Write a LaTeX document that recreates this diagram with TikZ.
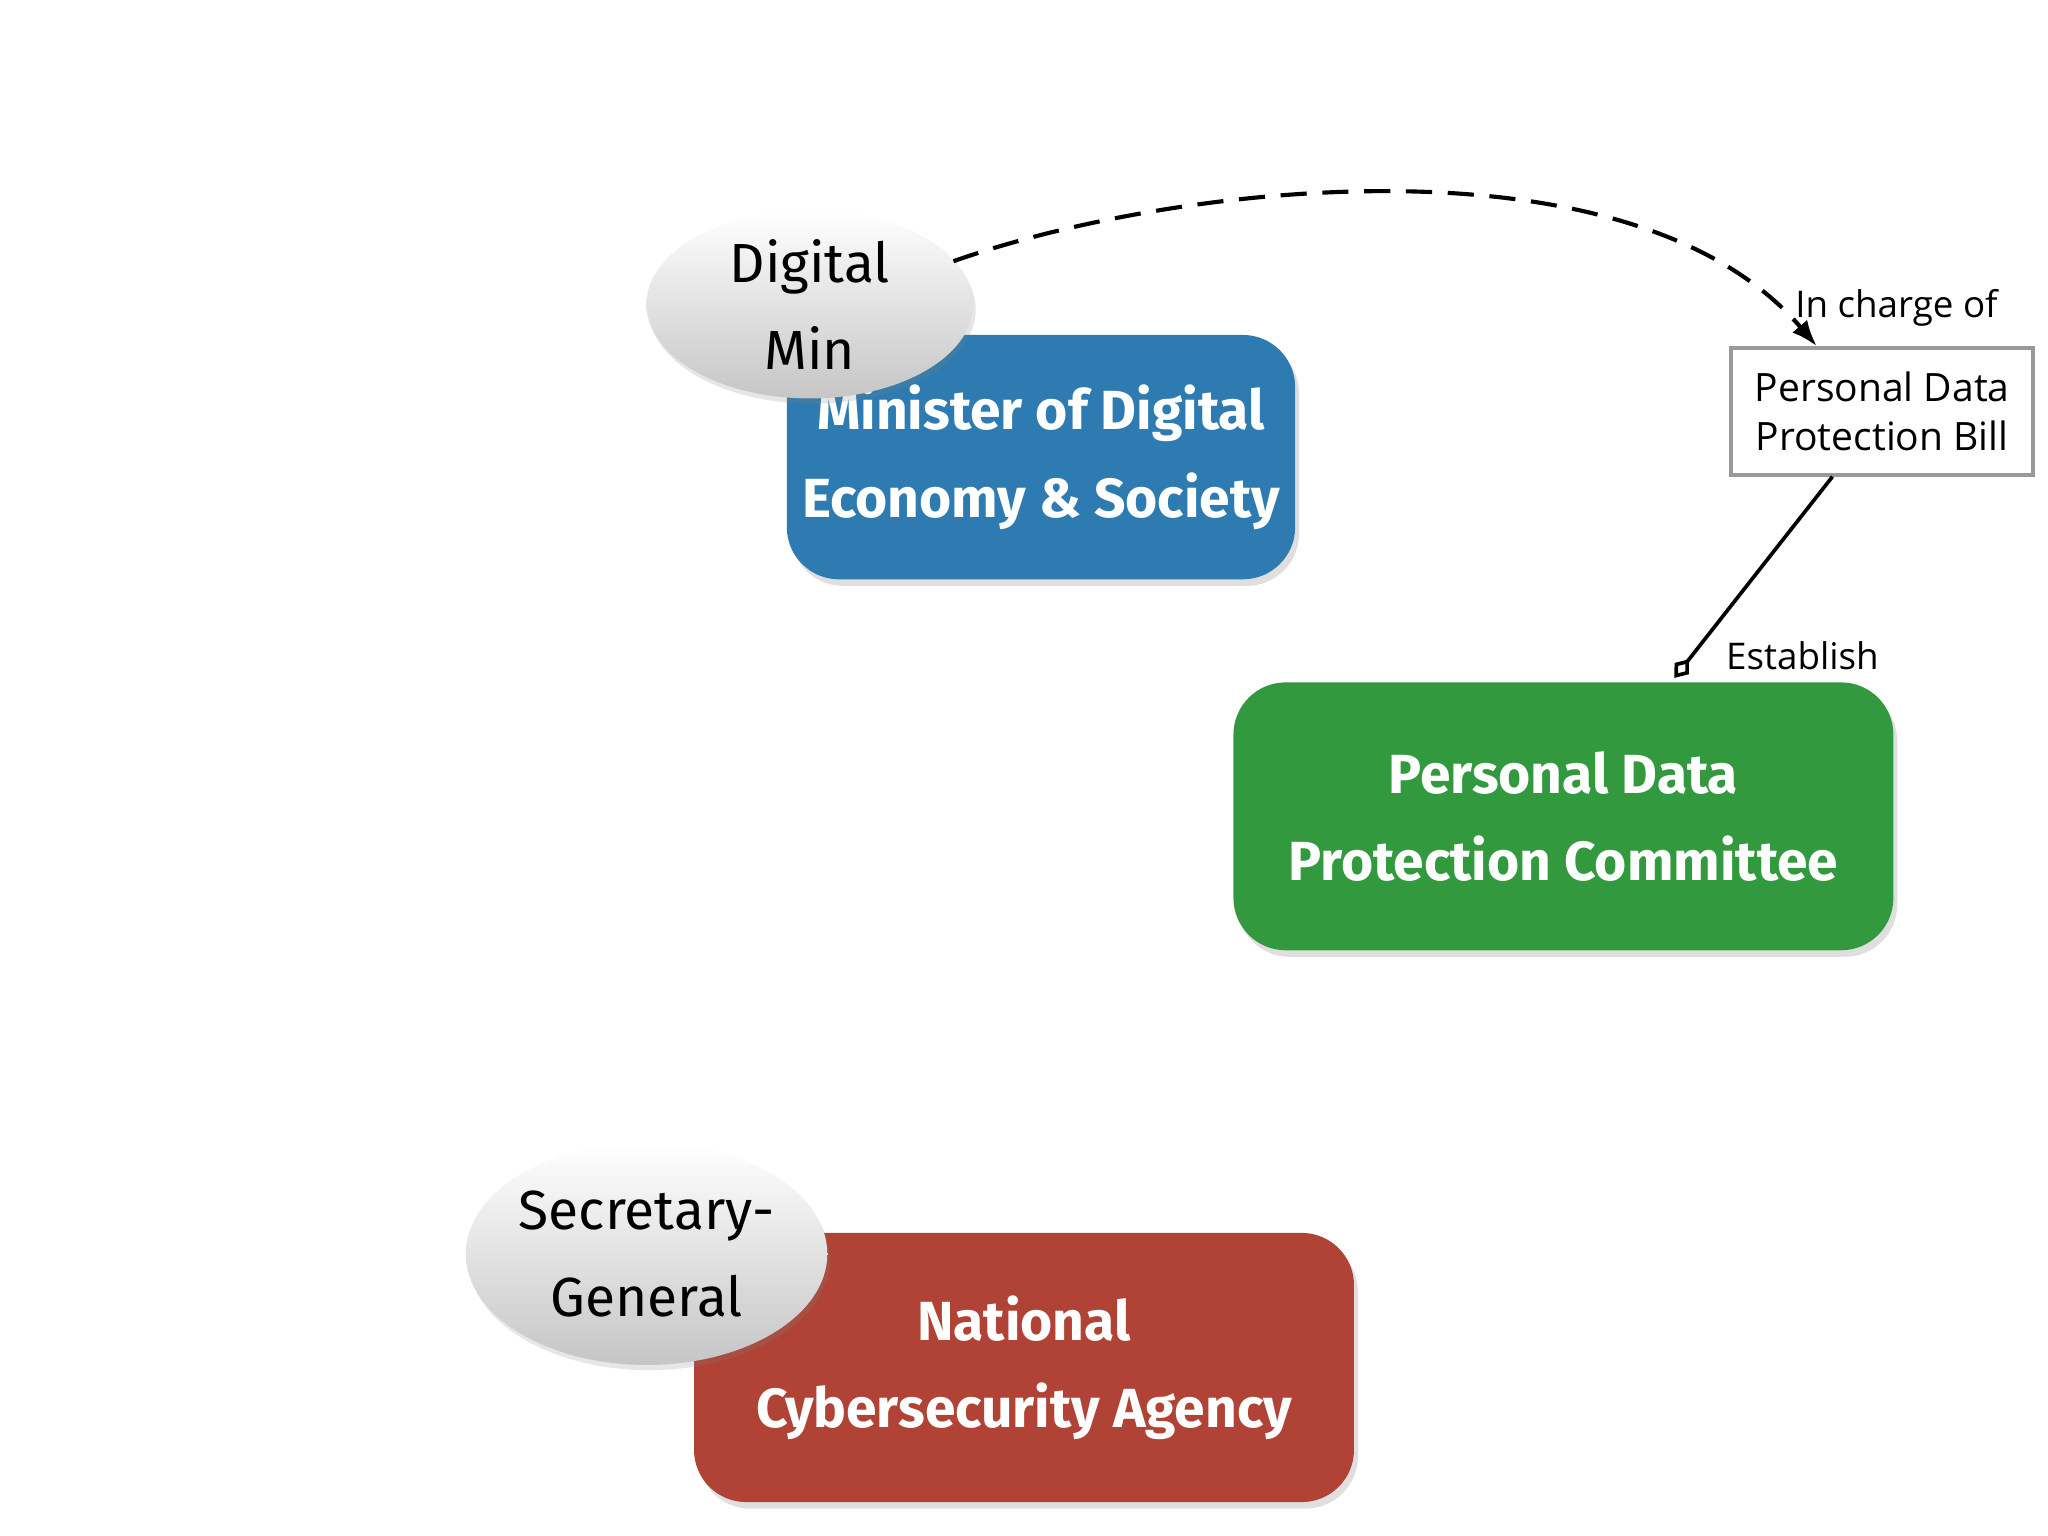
\documentclass[tikz,border=0pt]{standalone}
\usepackage{fontspec}
\setmainfont{Open Sans}
\newfontfamily\boxfont{Fira Sans}
\usetikzlibrary{shapes.geometric,arrows.meta,shadows}
\definecolor{cblue}{HTML}{2E7BB2}
\definecolor{cgreen}{HTML}{33993F}
\definecolor{cred}{HTML}{B04335}
\tikzset{
 x=0.01cm,y=-0.01cm,
 org/.style={rounded corners=0.4cm,text=white,font=\boxfont\fontsize{12}{19}\selectfont\bfseries,align=center,drop shadow={opacity=0.25,shadow xshift=0.03cm,shadow yshift=-0.05cm}},
 role/.style={ellipse,top color=white,bottom color=gray!45,font=\boxfont\fontsize{12}{19}\selectfont,align=center,inner sep=0pt,drop shadow={opacity=0.2,shadow xshift=0.02cm,shadow yshift=-0.04cm}},
 lbl/.style={font=\fontsize{8}{10}\selectfont}
}
\begin{document}
\begin{tikzpicture}
\useasboundingbox (0,0) rectangle (1568,1176);
\node[org,fill=cblue,minimum width=3.5cm,minimum height=1.87cm] (min) at (797,350) {Minister of Digital\\Economy \& Society};
\node[role,minimum width=2.5cm,minimum height=1.44cm] (dm) at (620,233) {Digital\\Min};
\node[org,fill=cgreen,minimum width=5.05cm,minimum height=2.05cm] (pdpc) at (1197,625) {Personal Data\\Protection Committee};
\node[org,fill=cred,minimum width=5.05cm,minimum height=2.06cm] (nca) at (784,1047) {National\\Cybersecurity Agency};
\node[role,minimum width=2.36cm,minimum height=1.7cm] (sg) at (495,960) {Secretary-\\General};
\node[draw=gray!80,line width=0.8pt,minimum width=2.31cm,minimum height=0.97cm,align=center,font=\fontsize{8.5}{10.5}\selectfont,inner sep=2pt] (bill) at (1441,315) {Personal Data\\Protection Bill};
\coordinate (s) at (730,200);
\coordinate (e) at ([xshift=-0.5cm]bill.north);
\draw[dashed,line width=0.9pt,dash pattern=on 0.2cm off 0.12cm,-{Latex[length=0.2cm]}] (s) .. controls (900,140) and (1250,100) .. (e);
\node[lbl] (ic) at (1452,236) {In charge of};
\coordinate (b2) at ([xshift=-0.38cm]bill.south);
\coordinate (g2) at (1282,519);
\draw[line width=0.8pt,-{Diamond[open,length=0.18cm,width=0.14cm]}] (b2) -- (g2);
\node[lbl] (est) at (1380,502) {Establish};
\end{tikzpicture}
\end{document}
